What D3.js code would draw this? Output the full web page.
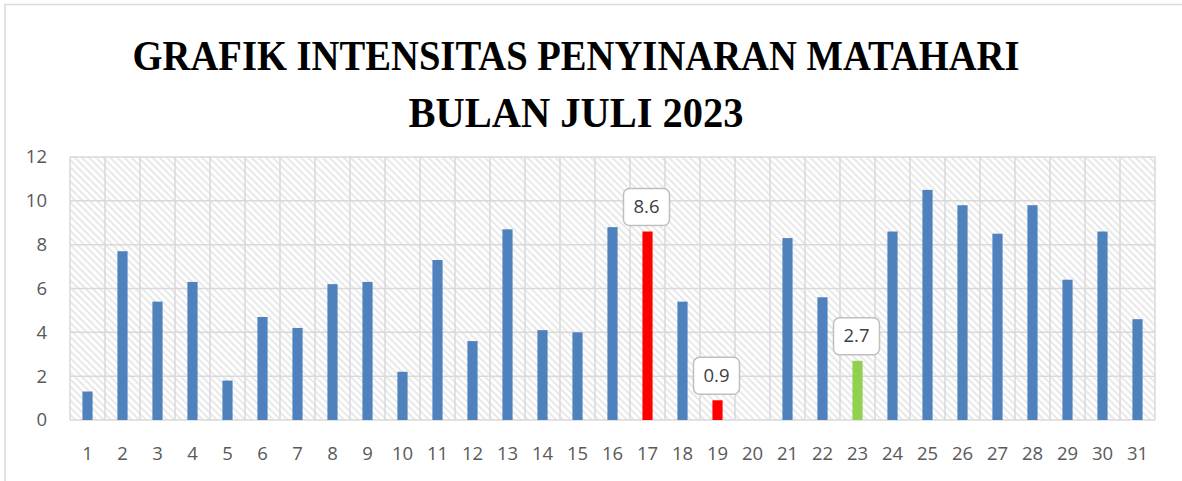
<!DOCTYPE html>
<html>
<head>
<meta charset="utf-8">
<script src="https://cdn.jsdelivr.net/npm/d3@7"></script>
<style>
  body { margin: 0; background: #fff; }
  svg { display: block; }
</style>
</head>
<body>
<svg id="chart" width="1182" height="481"></svg>
<script>
const days = d3.range(1, 32).map(String);
const intensity = [1.3, 7.7, 5.4, 6.3, 1.8, 4.7, 4.2, 6.2, 6.3, 2.2, 7.3, 3.6, 8.7, 4.1, 4.0, 8.8,
  8.6, 5.4, 0.9, 0, 8.3, 5.6, 2.7, 8.6, 10.5, 9.8, 8.5, 9.8, 6.4, 8.6, 4.6];
const highlightRed = ['17', '19'];
const highlightGreen = ['23'];
const labelledDays = ['17', '19', '23'];
const yTicks = [0, 2, 4, 6, 8, 10, 12];
const titleLines = ['GRAFIK INTENSITAS PENYINARAN MATAHARI', 'BULAN JULI 2023'];

const svg = d3.select('#chart');
const plot = { left: 70, right: 1155, top: 157, bottom: 420 };
const gridColor = '#d9d9d9';
const textColor = '#595959';

// chart frame
svg.append('rect')
  .attr('x', 5).attr('y', 4.5)
  .attr('width', 1190).attr('height', 500)
  .attr('fill', '#fff').attr('stroke', gridColor).attr('stroke-width', 1.5);

// hatch fill for the plot area
const defs = svg.append('defs');
const pat = defs.append('pattern')
  .attr('id', 'hatch')
  .attr('width', 5).attr('height', 5)
  .attr('patternUnits', 'userSpaceOnUse')
  .attr('patternTransform', 'rotate(-45)');
pat.append('rect').attr('width', 5).attr('height', 5).attr('fill', '#fff');
pat.append('line')
  .attr('x1', 1.5).attr('x2', 1.5).attr('y1', 0).attr('y2', 5)
  .attr('stroke', '#e2e2e2').attr('stroke-width', 1.6);

const x = d3.scaleBand()
  .domain(days)
  .range([plot.left, plot.right])
  .paddingInner(0.71).paddingOuter(0.355);
const y = d3.scaleLinear().domain([0, 12]).range([plot.bottom, plot.top]);
const step = x.step();

svg.append('rect')
  .attr('x', plot.left).attr('y', plot.top)
  .attr('width', plot.right - plot.left).attr('height', plot.bottom - plot.top)
  .attr('fill', 'url(#hatch)');

// gridlines
svg.append('g').selectAll('line')
  .data(yTicks)
  .join('line')
  .attr('x1', plot.left).attr('x2', plot.right)
  .attr('y1', d => y(d)).attr('y2', d => y(d))
  .attr('stroke', gridColor).attr('stroke-width', 1.5);

svg.append('g').selectAll('line')
  .data(d3.range(days.length + 1))
  .join('line')
  .attr('x1', i => plot.left + i * step).attr('x2', i => plot.left + i * step)
  .attr('y1', plot.top).attr('y2', plot.bottom)
  .attr('stroke', gridColor).attr('stroke-width', 1.5);

// y labels
svg.append('g').selectAll('text')
  .data(yTicks)
  .join('text')
  .attr('x', 47).attr('y', d => y(d)).attr('dy', '0.35em')
  .attr('text-anchor', 'end')
  .attr('font-family', 'Open Sans, sans-serif').attr('font-size', 18.5)
  .attr('fill', textColor)
  .text(d => d);

// x labels
svg.append('g').selectAll('text')
  .data(days)
  .join('text')
  .attr('x', d => x(d) + x.bandwidth() / 2).attr('y', 460)
  .attr('text-anchor', 'middle')
  .attr('font-family', 'Open Sans, sans-serif').attr('font-size', 18.5)
  .attr('fill', textColor)
  .text(d => d);

// bars
const rows = days.map((d, i) => ({ day: d, value: intensity[i] }));
const barColor = d => highlightRed.includes(d.day) ? '#ff0000'
  : highlightGreen.includes(d.day) ? '#92d050' : '#4f81bd';

svg.append('g').selectAll('rect')
  .data(rows)
  .join('rect')
  .attr('x', d => x(d.day))
  .attr('y', d => y(d.value))
  .attr('width', x.bandwidth())
  .attr('height', d => y(0) - y(d.value))
  .attr('fill', barColor);

// data labels in rounded boxes
const lbl = svg.append('g').selectAll('g')
  .data(rows.filter(d => labelledDays.includes(d.day)))
  .join('g')
  .attr('transform', d => `translate(${x(d.day) + x.bandwidth() / 2 - 1},${y(d.value) - 25})`);
lbl.append('rect')
  .attr('x', -23).attr('y', -18).attr('width', 46).attr('height', 37).attr('rx', 6)
  .attr('fill', '#fff').attr('stroke', '#bfbfbf').attr('stroke-width', 1.5);
lbl.append('text')
  .attr('text-anchor', 'middle').attr('dy', '0.35em')
  .attr('font-family', 'Open Sans, sans-serif').attr('font-size', 18.5)
  .attr('fill', '#404040')
  .text(d => d.value.toFixed(1));

// title
const titleWidths = [887, 335];
titleLines.forEach((t, i) => {
  svg.append('text')
    .attr('x', 576).attr('y', 70 + i * 57)
    .attr('text-anchor', 'middle')
    .attr('font-family', 'Liberation Serif, serif').attr('font-weight', 'bold')
    .attr('font-size', 43)
    .attr('fill', '#000')
    .attr('textLength', titleWidths[i]).attr('lengthAdjust', 'spacingAndGlyphs')
    .text(t);
});
</script>
</body>
</html>
